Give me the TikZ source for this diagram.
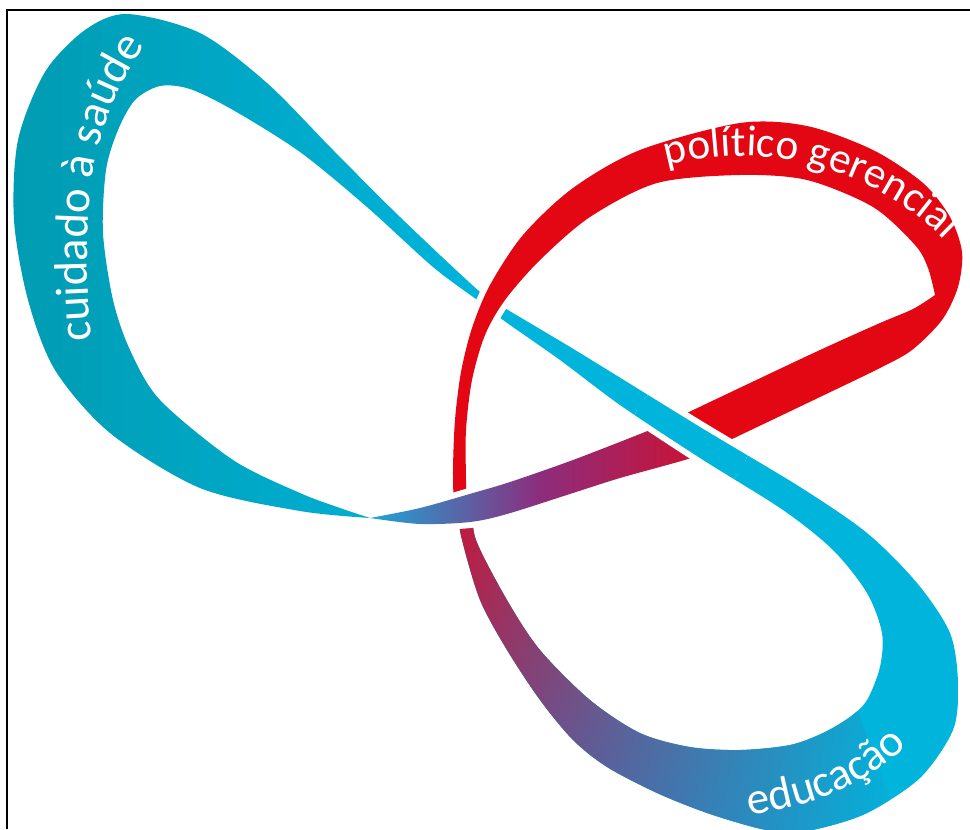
\documentclass[tikz,border=0pt]{standalone}
\usepackage{fontspec}
\setmainfont{Carlito}
\usepackage{tikz}
\usetikzlibrary{decorations.text,shadings}

\definecolor{ribteal}{RGB}{0,156,178}
\definecolor{ribcyan}{RGB}{0,180,220}
\definecolor{ribred}{RGB}{227,6,19}
\definecolor{ribcrimson}{RGB}{208,16,47}
\definecolor{ribpurple}{RGB}{120,60,140}
\definecolor{ribplum}{RGB}{140,45,125}
\definecolor{ribblue}{RGB}{30,165,215}

\newcommand{\cyanband}{plot[smooth] coordinates {(370,518) (300,511) (200,488)
  (110,433) (55,370) (28,300) (14,220) (18,140) (45,72) (85,30) (127,14) (200,33)
  (267,83) (333,150) (400,217) (480,292) (503,307) (580,353) (700,427) (800,487)
  (867,533) (917,583) (950,633) (958,683) (953,730) (920,778) (867,813) (817,829)
  (785,832) (757,828) (707,813) (657,793) (607,767) (573,740) (540,700) (507,650)
  (480,600) (462,540) (456,505)}
  -- plot[smooth] coordinates {(472,505) (476,540) (507,600) (540,650) (590,700)
  (640,733) (690,747) (740,750) (790,745) (823,733) (850,717) (867,700) (880,667)
  (882,633) (867,593) (833,550) (783,510) (700,458) (620,405) (560,360) (503,320)
  (480,302) (433,267) (367,207) (300,152) (233,110) (190,89) (160,86) (135,100)
  (118,130) (106,170) (103,233) (113,300) (130,350) (160,400) (233,460) (300,493)
  (340,508) (370,518)} -- cycle}

\newcommand{\redband}{plot[smooth] coordinates {(454,514) (453,470) (455,420)
  (461,372) (472,328) (490,285) (523,235) (573,188) (640,150) (740,123) (807,126)
  (873,150) (923,183) (950,217) (962,252) (958,287) (942,320) (912,350) (880,368)
  (820,397) (730,440) (709,450)} -- (670,421)
  -- plot[smooth] coordinates {(670,421) (750,383) (820,350) (880,323) (913,309) (935,295)}
  -- plot[smooth] coordinates {(935,295) (928,268) (915,245) (873,207) (807,180)
  (740,175) (657,183) (590,217) (540,260) (505,300) (485,335) (472,380) (466,430)
  (466,480) (467,514)} -- cycle}

\newcommand{\mixband}{(670,421) -- (709,450)
  -- plot[smooth] coordinates {(709,450) (688,459) (620,478) (573,493) (507,514)
  (470,522) (420,524) (370,518)}
  -- plot[smooth] coordinates {(370,518) (420,508) (473,493) (510,482) (573,460)
  (650,430) (670,421)} -- cycle}

\begin{document}
\begin{tikzpicture}[x=0.75pt,y=-0.75pt,
  halo/.style={draw=white,line width=9pt,line join=round},
  cyanshade/.style={left color=ribteal,right color=ribcyan,middle color=ribcyan},
  ribtext/.style={decorate,decoration={text along path,text color=white,text align=center}}]

  \useasboundingbox (0,0) rectangle (970,829);
  \draw[line width=1.5pt] (970,10) -- (7,10) -- (7,829);

  \shade[cyanshade] \cyanband;
  \begin{scope}
    \clip \cyanband;
    \shade[upper left=ribcrimson,lower left=ribpurple,upper right=ribcyan,lower right=ribcyan]
      (440,500) -- (495,500) -- (700,650) -- (850,690) -- (905,840) -- (440,840) -- cycle;
  \end{scope}

  \begin{scope}
    \clip (490,303) circle (38);
    \draw[halo] \redband;
  \end{scope}
  \fill[ribred] \redband;

  \begin{scope}
    \clip (466,508) circle (45);
    \draw[halo] \mixband;
  \end{scope}
  \shade[left color=ribblue,right color=ribcrimson,middle color=ribplum] \mixband;

  \begin{scope}
    \clip (690,438) circle (60);
    \draw[halo] \cyanband;
    \shade[cyanshade] \cyanband;
  \end{scope}

  \path[ribtext,decoration={text={|\fontsize{35}{40}\selectfont|cuidado à saúde}}]
    (92,352) .. controls (82,220) and (82,130) .. (152,36);
  \path[ribtext,decoration={text={|\fontsize{32.5}{40}\selectfont|político gerencial}}]
    plot[domain=113:37,samples=50] ({741+289*cos(\x)},{445-289*sin(\x)});
  \path[ribtext,decoration={text={|\fontsize{34}{40}\selectfont|educação}}]
    (735,818) .. controls (800,808) and (860,795) .. (918,735);
\end{tikzpicture}
\end{document}
